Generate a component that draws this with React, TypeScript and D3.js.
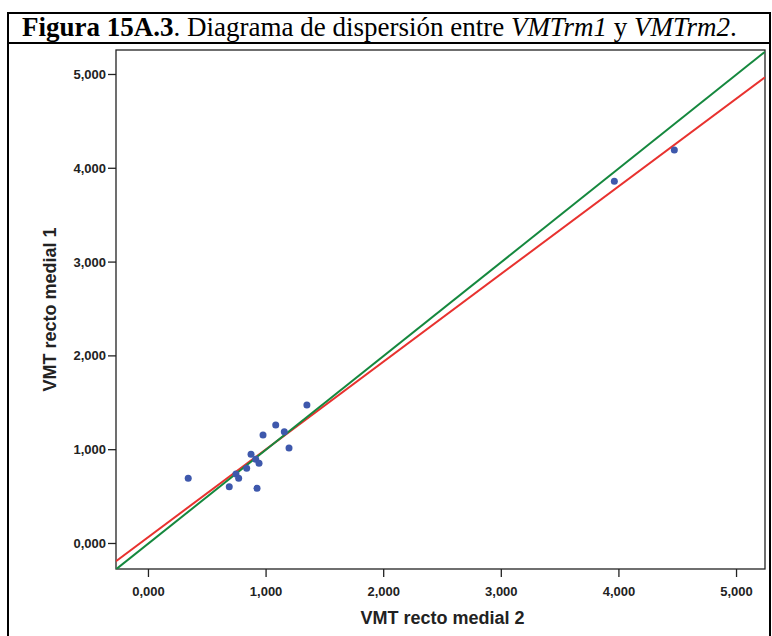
import React from 'react';
import * as d3 from 'd3';

// VMT recto medial 2 (x) vs VMT recto medial 1 (y)
const vmtRm2 = [0.338, 0.687, 0.744, 0.767, 0.835, 0.872, 0.912, 0.940, 0.923, 0.974, 1.082, 1.155, 1.195, 1.347, 3.961, 4.471];
const vmtRm1 = [0.695, 0.606, 0.741, 0.695, 0.802, 0.951, 0.898, 0.855, 0.588, 1.157, 1.263, 1.192, 1.018, 1.477, 3.861, 4.195];

const xTicks = [0, 1, 2, 3, 4, 5];
const yTicks = [0, 1, 2, 3, 4, 5];

// lines: [intercept, slope]
const fitLine = [0.07, 0.935];
const refLine = [0, 1];

const W = 772;
const H = 636;
const plot = { left: 116, right: 765, top: 50, bottom: 569 };

const locale = d3.formatLocale({ decimal: ',', thousands: '.', grouping: [3], currency: ['', ''] });
const fmt = locale.format('.3f');

const App = () => {
  const x = d3.scaleLinear().domain([-0.276, 5.242]).range([plot.left, plot.right]);
  const y = d3.scaleLinear().domain([-0.272, 5.261]).range([plot.bottom, plot.top]);

  const lineFor = ([a, b]: number[]) => {
    const [x0, x1] = x.domain();
    return d3.line<number>()
      .x(d => x(d))
      .y(d => y(a + b * d))([x0, x1]) as string;
  };

  const pts = vmtRm2.map((v, i) => ({ x: v, y: vmtRm1[i] }));
  const sans = 'Arial, "Liberation Sans", sans-serif';

  return (
    <svg width={W} height={H} style={{ position: 'absolute', left: 0, top: 0, background: '#fff' }}>
      <defs>
        <clipPath id="plotClip">
          <rect x={plot.left} y={plot.top} width={plot.right - plot.left} height={plot.bottom - plot.top} />
        </clipPath>
      </defs>

      {/* outer frame and title row */}
      <rect x={8} y={13} width={762} height={H} fill="none" stroke="#000" strokeWidth={2} />
      <line x1={8} x2={770} y1={43} y2={43} stroke="#000" strokeWidth={2} />
      <text x={22} y={36} fontFamily='"Times New Roman", "Liberation Serif", serif' fontSize={27} fill="#000">
        <tspan fontWeight="bold">Figura 15A.3</tspan>
        <tspan>. Diagrama de dispersión entre </tspan>
        <tspan fontStyle="italic">VMTrm1</tspan>
        <tspan> y </tspan>
        <tspan fontStyle="italic">VMTrm2</tspan>
        <tspan>.</tspan>
      </text>

      {/* plot frame */}
      <rect x={plot.left} y={plot.top} width={plot.right - plot.left} height={plot.bottom - plot.top}
        fill="none" stroke="#222" strokeWidth={1.3} />

      {/* y ticks */}
      {yTicks.map(t => (
        <g key={'y' + t} transform={`translate(0,${y(t)})`}>
          <line x1={plot.left - 8} x2={plot.left} stroke="#222" strokeWidth={1.3} />
          <text x={plot.left - 10} dy="0.35em" textAnchor="end" fontFamily={sans} fontWeight="bold" fontSize={13} fill="#222">{fmt(t)}</text>
        </g>
      ))}

      {/* x ticks */}
      {xTicks.map(t => (
        <g key={'x' + t} transform={`translate(${x(t)},0)`}>
          <line y1={plot.bottom} y2={plot.bottom + 8} stroke="#222" strokeWidth={1.3} />
          <text y={plot.bottom + 27} textAnchor="middle" fontFamily={sans} fontWeight="bold" fontSize={13} fill="#222">{fmt(t)}</text>
        </g>
      ))}

      {/* axis titles */}
      <text x={(plot.left + plot.right) / 2 + 2} y={624} textAnchor="middle" fontFamily={sans} fontWeight="bold" fontSize={18} fill="#222">VMT recto medial 2</text>
      <text transform={`translate(56,${(plot.top + plot.bottom) / 2}) rotate(-90)`} textAnchor="middle" fontFamily={sans} fontWeight="bold" fontSize={18} fill="#222">VMT recto medial 1</text>

      <g clipPath="url(#plotClip)">
        <path d={lineFor(fitLine)} stroke="#e8322f" strokeWidth={2} fill="none" />
        <path d={lineFor(refLine)} stroke="#15883e" strokeWidth={2} fill="none" />
        {pts.map((p, i) => (
          <circle key={i} cx={x(p.x)} cy={y(p.y)} r={3.5} fill="#3e58ac" />
        ))}
      </g>
    </svg>
  );
};

export default App;
